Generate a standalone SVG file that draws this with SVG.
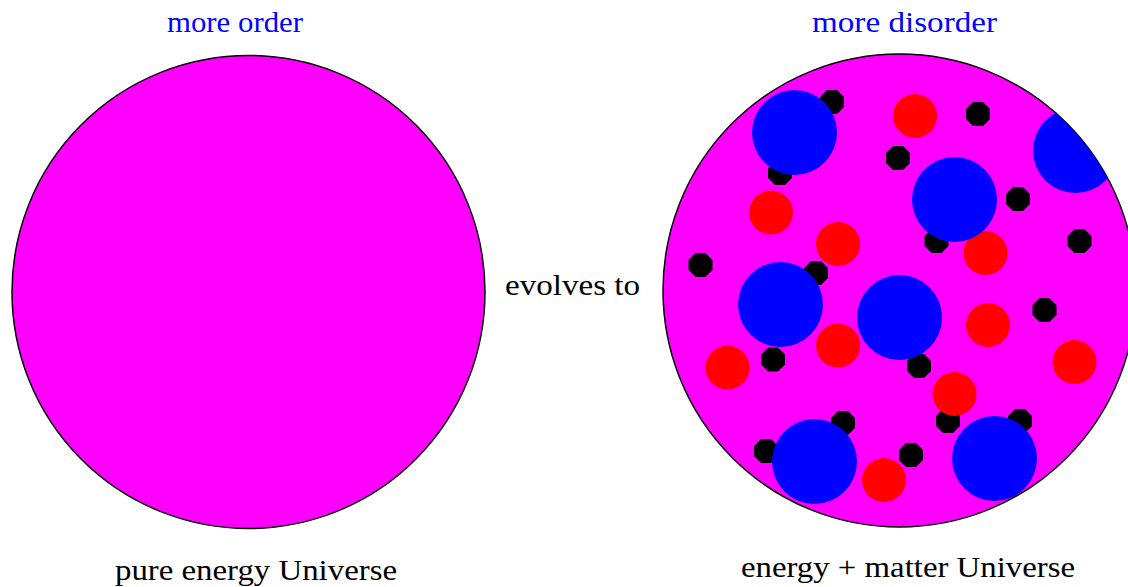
<svg xmlns="http://www.w3.org/2000/svg" xmlns:xlink="http://www.w3.org/1999/xlink" width="1128" height="587" viewBox="0 0 1128 587">
<style>
.univ{fill:#FF00FF;stroke:#000;stroke-width:1.5}
.blue{fill:#0000FF}
.red{fill:#FF0000}
.blk{fill:#000}
.lbl{font-family:"Liberation Serif","Times New Roman",serif;fill:#000}
.top{font-family:"Liberation Serif","Times New Roman",serif;fill:#0000FF;font-size:29px}
</style>
<defs>
<polygon id="oct" points="-5,-12 5,-12 12,-5 12,5 5,12 -5,12 -12,5 -12,-5"/>
<clipPath id="rc"><circle cx="899.5" cy="290.5" r="236.5"/></clipPath>
</defs>
<rect width="1128" height="587" fill="#fff"/>
<g id="left-universe">
<circle class="univ" cx="248.5" cy="292" r="236.5"/>
</g>
<g id="right-universe">
<circle class="univ" cx="899.5" cy="290.5" r="236.5"/>
<g class="blk">
<use xlink:href="#oct" x="832" y="102"/>
<use xlink:href="#oct" x="780" y="173"/>
<use xlink:href="#oct" x="898" y="158"/>
<use xlink:href="#oct" x="978" y="114"/>
<use xlink:href="#oct" x="1018" y="199"/>
<use xlink:href="#oct" x="1079.5" y="241"/>
<use xlink:href="#oct" x="936.5" y="241"/>
<use xlink:href="#oct" x="816" y="273"/>
<use xlink:href="#oct" x="700.5" y="265"/>
<use xlink:href="#oct" x="773" y="359.5"/>
<use xlink:href="#oct" x="1044.5" y="310"/>
<use xlink:href="#oct" x="919" y="366"/>
<use xlink:href="#oct" x="948" y="421"/>
<use xlink:href="#oct" x="1020" y="421"/>
<use xlink:href="#oct" x="843" y="423"/>
<use xlink:href="#oct" x="766" y="451"/>
<use xlink:href="#oct" x="911" y="455"/>
</g>
<g class="red">
<circle cx="915" cy="116" r="22"/>
<circle cx="771" cy="212.5" r="22"/>
<circle cx="838" cy="244" r="22"/>
<circle cx="985.5" cy="253" r="22"/>
<circle cx="988" cy="325" r="22"/>
<circle cx="1074.5" cy="362" r="22"/>
<circle cx="954.5" cy="394" r="22"/>
<circle cx="838" cy="345.5" r="22"/>
<circle cx="727.5" cy="367.5" r="22"/>
<circle cx="884" cy="480" r="22"/>
</g>
<g class="blue">
<circle cx="794.5" cy="132.5" r="42.5"/>
<circle cx="954.5" cy="199.5" r="42.5"/>
<circle cx="1075.5" cy="150.5" r="42.5" clip-path="url(#rc)"/>
<circle cx="780.5" cy="304.5" r="42.5"/>
<circle cx="899.5" cy="317.5" r="42.5"/>
<circle cx="814.5" cy="461.5" r="42.5"/>
<circle cx="994.5" cy="458.5" r="42.5"/>
</g>
</g>
<g id="labels">
<text class="top" x="167" y="32" textLength="136" lengthAdjust="spacingAndGlyphs">more order</text>
<text class="top" x="812" y="32" textLength="185" lengthAdjust="spacingAndGlyphs">more disorder</text>
<text class="lbl" x="505" y="295" font-size="29" textLength="135" lengthAdjust="spacingAndGlyphs">evolves to</text>
<text class="lbl" x="115" y="580" font-size="30" textLength="282" lengthAdjust="spacingAndGlyphs">pure energy Universe</text>
<text class="lbl" x="741" y="577" font-size="30" textLength="334" lengthAdjust="spacingAndGlyphs">energy + matter Universe</text>
</g>
</svg>
